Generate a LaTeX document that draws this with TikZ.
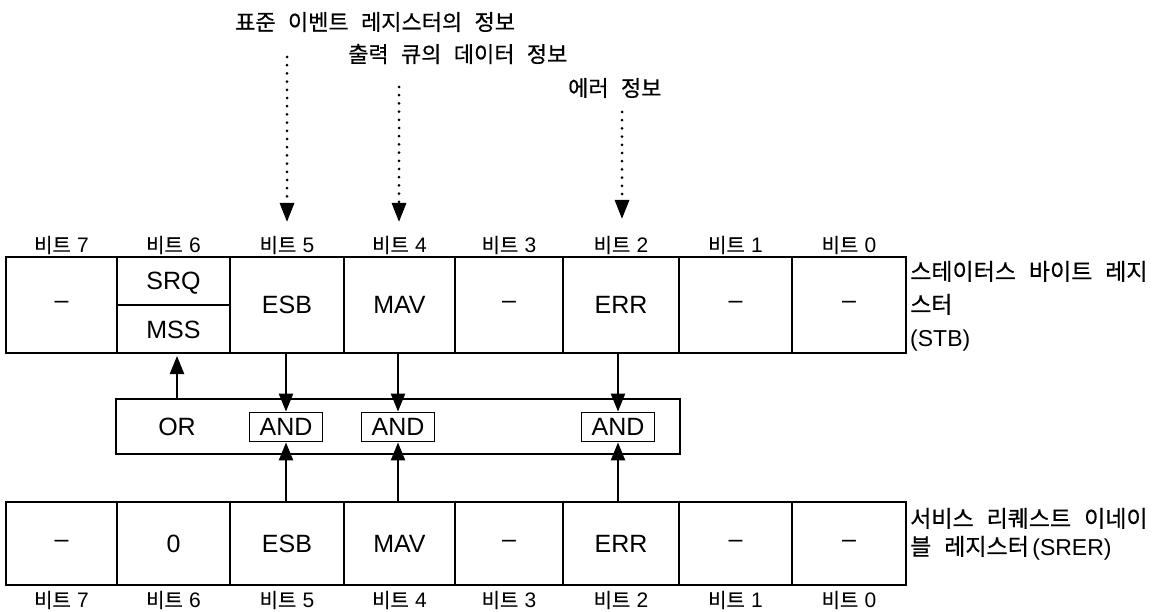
\documentclass[tikz,border=0pt]{standalone}
\usepackage{fontspec}
\setmainfont{Liberation Sans}
\newfontfamily\kr[WordSpace=2.5,FakeBold=0.5]{Noto Sans CJK KR}
\usetikzlibrary{arrows.meta}
\newcommand{\bitlbl}[1]{{\kr\fontsize{20}{22}\selectfont 비트}\hspace{0.3em}#1}
\begin{document}
\begin{tikzpicture}[x=1pt,y=-1pt,
  cell/.style={draw, line width=2.2pt, inner sep=0pt, font=\fontsize{25}{29}\selectfont},
  txt/.style={inner sep=0pt, font=\fontsize{25}{29}\selectfont},
  bitl/.style={inner sep=0pt, font=\fontsize{21}{23}\selectfont},
  andbox/.style={draw, line width=1.8pt, minimum width=73pt, minimum height=29pt, inner sep=0pt, font=\fontsize{25}{29}\selectfont},
  korl/.style={inner sep=0pt, font=\kr\fontsize{22}{26}\selectfont},
  korr/.style={inner sep=0pt, anchor=base west, font=\kr\fontsize{23}{27}\selectfont},
  arr/.style={line width=2.4pt, -{Triangle[length=18pt,width=14pt]}},
  dotarr/.style={line width=3pt, line cap=round, dash pattern=on 0pt off 8.2pt, -{Triangle[length=19pt,width=14pt]}}
]
\useasboundingbox (0,0) rectangle (1174,612);

% Status byte register (STB)
\node[cell, minimum width=111pt, minimum height=96pt] (s7) at (61.5,305) {–};
\node[cell, minimum width=113pt, minimum height=96pt] (s6) at (173.5,305) {};
\node[cell, minimum width=114pt, minimum height=96pt] (s5) at (287,305) {ESB};
\node[cell, minimum width=111pt, minimum height=96pt] (s4) at (399.5,305) {MAV};
\node[cell, minimum width=108pt, minimum height=96pt] (s3) at (509,305) {–};
\node[cell, minimum width=116pt, minimum height=96pt] (s2) at (621,305) {ERR};
\node[cell, minimum width=113pt, minimum height=96pt] (s1) at (735.5,305) {–};
\node[cell, minimum width=114pt, minimum height=96pt] (s0) at (849,305) {–};
\draw[line width=2.2pt] (s6.west) -- (s6.east);
\node[txt] (srq) at (173.5,283) {SRQ};
\node[txt] (mss) at (173.5,330) {MSS};

% Service request enable register (SRER)
\node[cell, minimum width=111pt, minimum height=83pt] (r7) at (61.5,543.5) {–};
\node[cell, minimum width=113pt, minimum height=83pt] (r6) at (173.5,543.5) {0};
\node[cell, minimum width=114pt, minimum height=83pt] (r5) at (287,543.5) {ESB};
\node[cell, minimum width=111pt, minimum height=83pt] (r4) at (399.5,543.5) {MAV};
\node[cell, minimum width=108pt, minimum height=83pt] (r3) at (509,543.5) {–};
\node[cell, minimum width=116pt, minimum height=83pt] (r2) at (621,543.5) {ERR};
\node[cell, minimum width=113pt, minimum height=83pt] (r1) at (735.5,543.5) {–};
\node[cell, minimum width=114pt, minimum height=83pt] (r0) at (849,543.5) {–};

% bit labels
\foreach \n/\x in {7/61.5,6/173.5,5/287,4/399.5,3/509,2/621,1/735.5,0/849} {
  \node[bitl] (bt\n) at (\x,245) {\bitlbl{\n}};
  \node[bitl] (bb\n) at (\x,600) {\bitlbl{\n}};
}

% OR / AND block
\node[draw, line width=1.8pt, minimum width=564pt, minimum height=55pt, inner sep=0pt] (orb) at (398,426.5) {};
\node[txt] (ortxt) at (177,427) {OR};
\node[andbox] (a5) at (286,427) {AND};
\node[andbox] (a4) at (398,427) {AND};
\node[andbox] (a2) at (618,427) {AND};

% arrows
\coordinate (orup) at (177,353);
\draw[arr, shorten >=3pt] (orb.north -| orup) -- (orup);
\draw[arr] (s5.south -| a5) -- (a5.north);
\draw[arr] (s4.south -| a4) -- (a4.north);
\draw[arr] (s2.south -| a2) -- (a2.north);
\draw[arr] (r5.north -| a5) -- (a5.south);
\draw[arr] (r4.north -| a4) -- (a4.south);
\draw[arr] (r2.north -| a2) -- (a2.south);

% top info labels and dotted arrows
\node[korl, anchor=west] (l1) at (235,22) {표준 이벤트 레지스터의 정보};
\node[korl, anchor=west] (l2) at (348,54) {출력 큐의 데이터 정보};
\node[korl, anchor=west] (l3) at (568,88) {에러 정보};
\coordinate (d5s) at (287,57);
\coordinate (d5e) at (287,222);
\coordinate (d4s) at (399,87);
\coordinate (d4e) at (399,222);
\coordinate (d2s) at (622,112);
\coordinate (d2e) at (622,219);
\draw[dotarr] (d5s) -- (d5e);
\draw[dotarr] (d4s) -- (d4e);
\draw[dotarr] (d2s) -- (d2e);

% register names
\node[korr] (stb1) at (910,280) {스테이터스 바이트 레지};
\node[korr] (stb2) at (910,313) {스터};
\node[korr, font=\fontsize{23}{27}\selectfont] (stb3) at (910,346) {(STB)};
\node[korr] (sr1) at (910,527) {서비스 리퀘스트 이네이};
\node[korr] (sr2) at (910,555) {블 레지스터\hspace{0.15em}{\rmfamily (SRER)}};
\end{tikzpicture}
\end{document}
